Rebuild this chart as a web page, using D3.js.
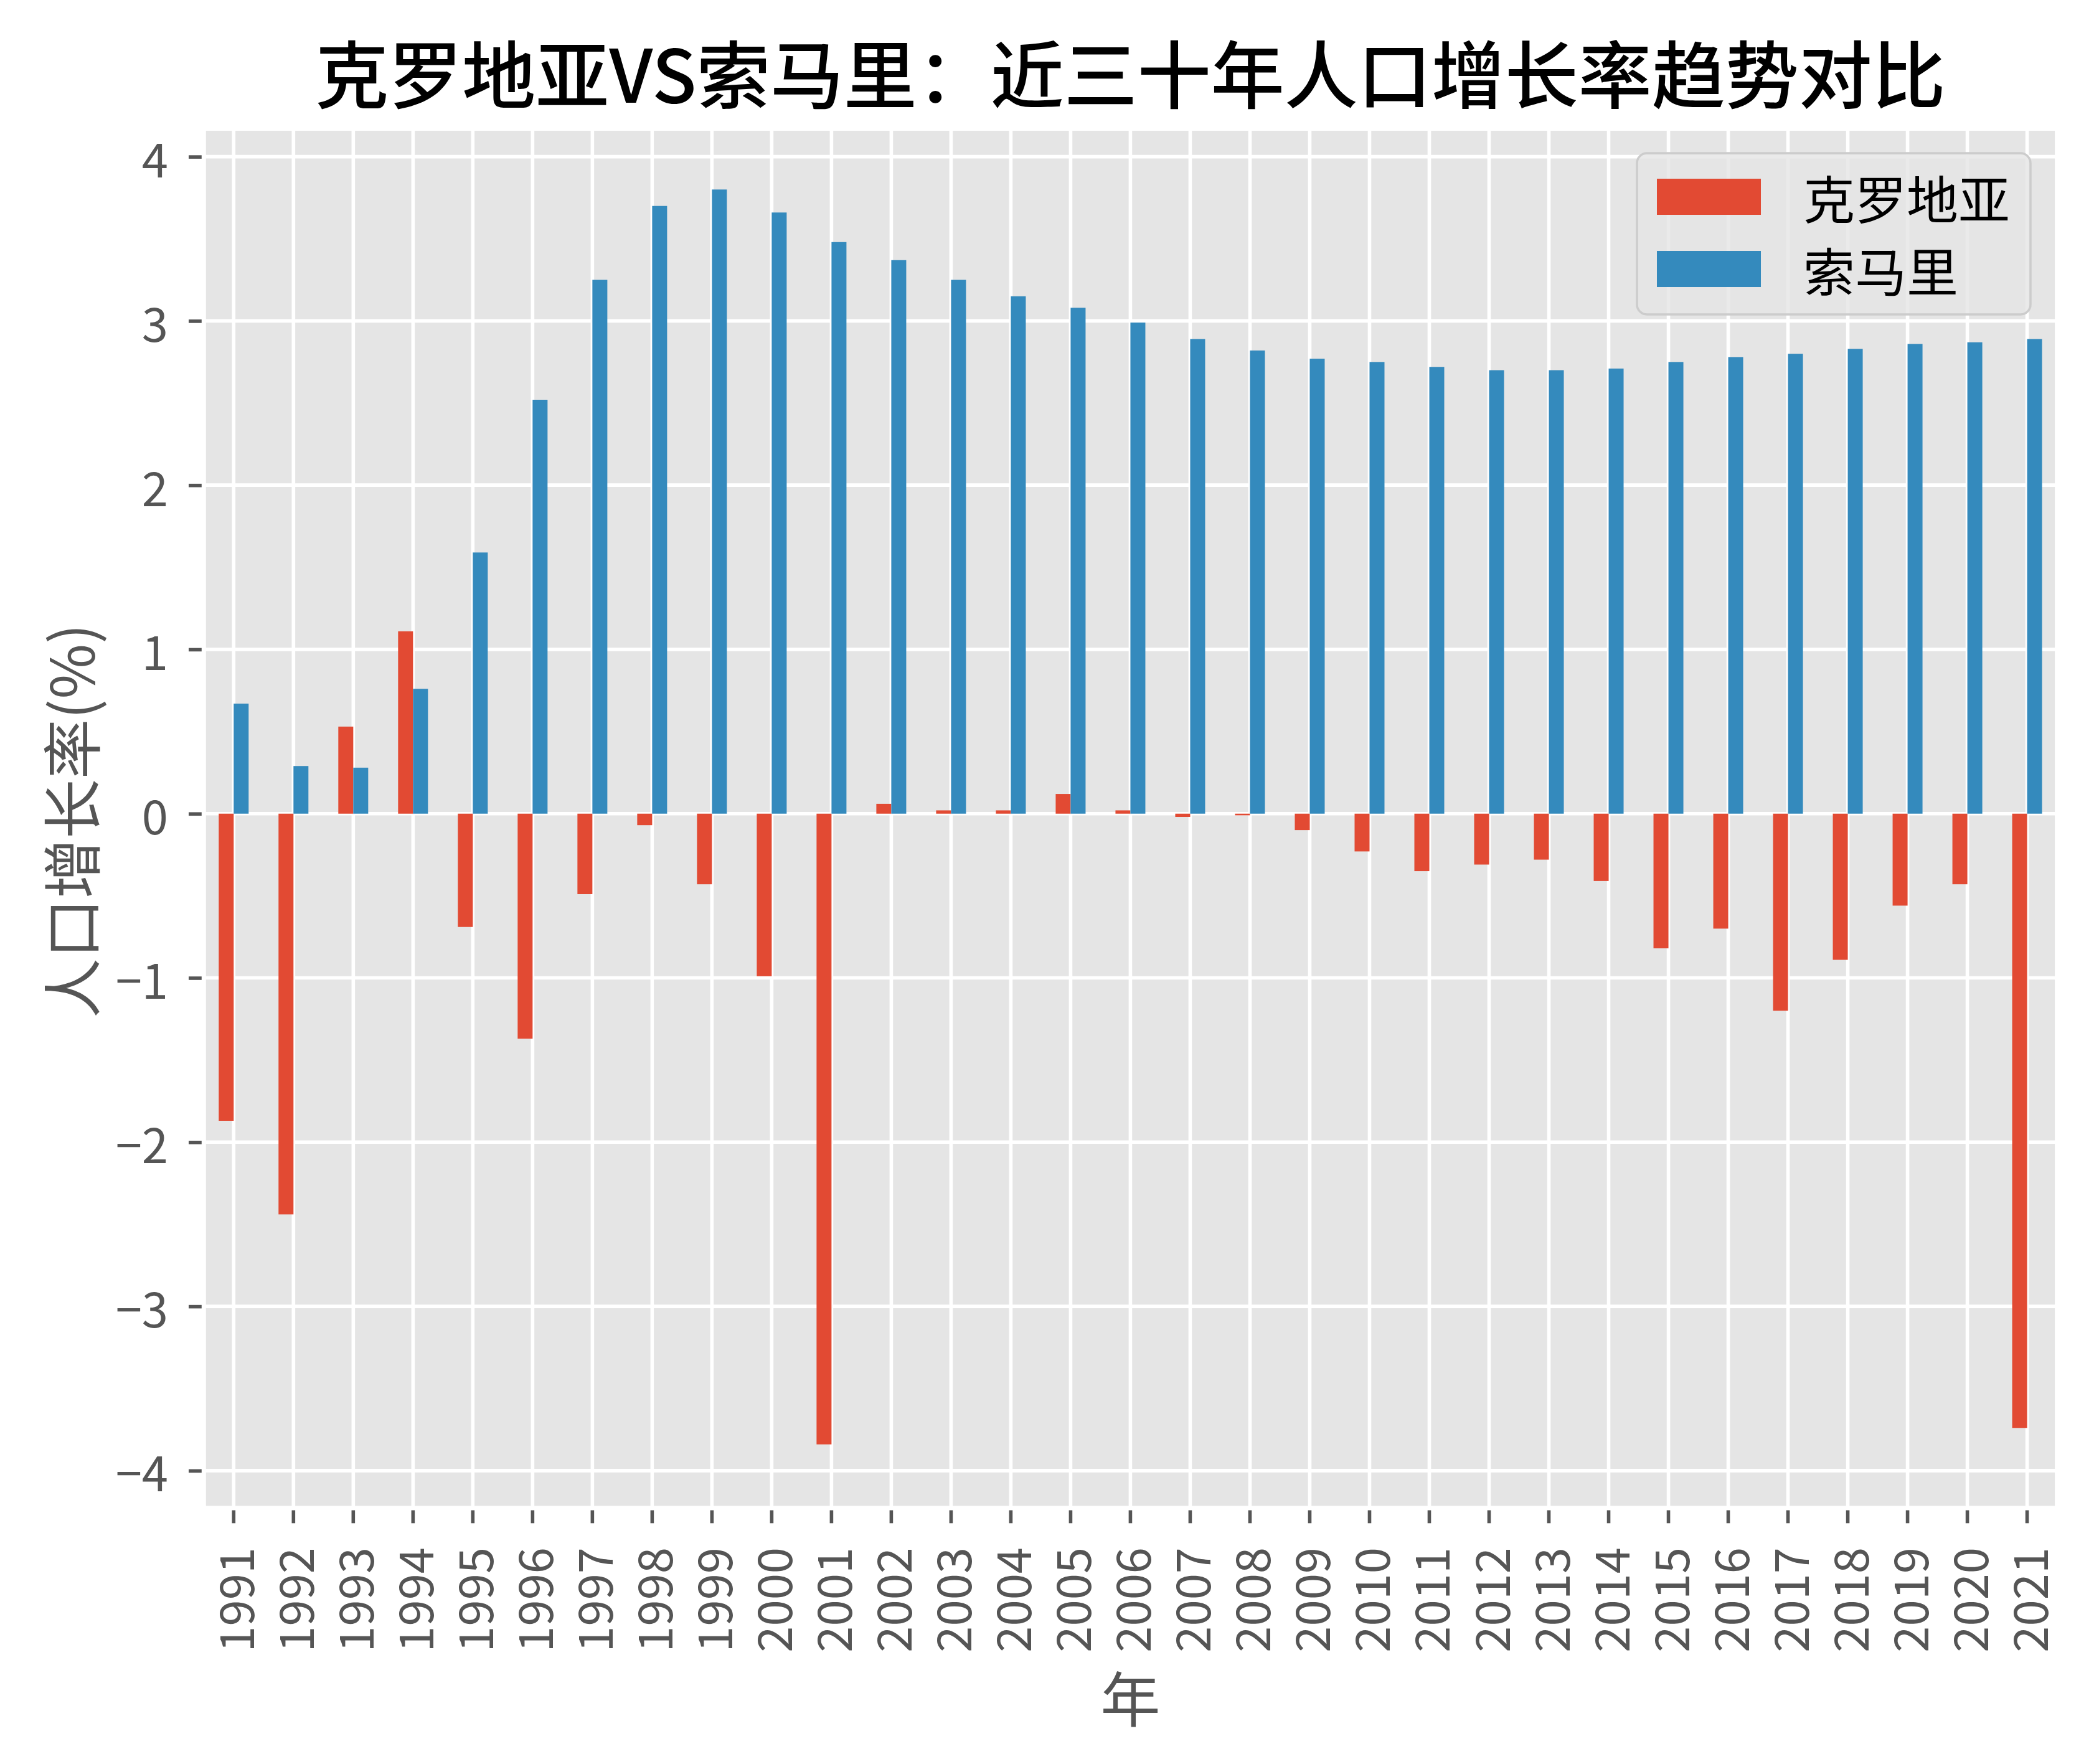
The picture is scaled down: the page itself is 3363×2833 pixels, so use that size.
<!DOCTYPE html>
<html>
<head>
<meta charset="utf-8">
<script src="https://cdn.jsdelivr.net/npm/d3@7"></script>
<style>
  html, body { margin: 0; padding: 0; background: #ffffff; }
  svg { display: block; }
  text { font-family: "Noto Sans CJK SC", "Noto Sans", sans-serif; }
</style>
</head>
<body>
<script>
// ---- data ----
const years = ["1991","1992","1993","1994","1995","1996","1997","1998","1999","2000",
  "2001","2002","2003","2004","2005","2006","2007","2008","2009","2010",
  "2011","2012","2013","2014","2015","2016","2017","2018","2019","2020","2021"];
const croatia = [-1.87, -2.44, 0.53, 1.11, -0.69, -1.37, -0.49, -0.07, -0.43, -0.99,
  -3.84, 0.06, 0.02, 0.02, 0.12, 0.02, -0.02, -0.01, -0.10, -0.23,
  -0.35, -0.31, -0.28, -0.41, -0.82, -0.70, -1.20, -0.89, -0.56, -0.43, -3.74];
const somalia = [0.67, 0.29, 0.28, 0.76, 1.59, 2.52, 3.25, 3.70, 3.80, 3.66,
  3.48, 3.37, 3.25, 3.15, 3.08, 2.99, 2.89, 2.82, 2.77, 2.75,
  2.72, 2.70, 2.70, 2.71, 2.75, 2.78, 2.80, 2.83, 2.86, 2.87, 2.89];
const seriesNames = ["克罗地亚", "索马里"];
const seriesColors = ["#E24A33", "#348ABD"];
const yTicks = [-4, -3, -2, -1, 0, 1, 2, 3, 4];
const titleText = "克罗地亚VS索马里：近三十年人口增长率趋势对比";
const xLabel = "年";
const yLabel = "人口增长率(%)";

// ---- layout ----
const W = 3363, H = 2833;
const L = 327.3, R = 3303.6, T = 206.5, B = 2422;

const svg = d3.select("body").append("svg").attr("width", W).attr("height", H);
svg.append("rect").attr("width", W).attr("height", H).attr("fill", "#ffffff");

const x = d3.scaleBand().domain(years).range([L, R]).paddingInner(0).paddingOuter(0);
const y = d3.scaleLinear().domain([-4.228, 4.171]).range([B, T]);
const barW = x.bandwidth() * 0.25;
const cx = d => x(d) + x.bandwidth() / 2;

// background
svg.append("rect").attr("x", L).attr("y", T).attr("width", R - L).attr("height", B - T)
  .attr("fill", "#E5E5E5");

// grid
const grid = svg.append("g");
grid.selectAll("line.h").data(yTicks).join("line")
  .attr("x1", L).attr("x2", R).attr("y1", d => y(d)).attr("y2", d => y(d))
  .attr("stroke", "#ffffff").attr("stroke-width", 5.6);
grid.selectAll("line.v").data(years).join("line")
  .attr("y1", T).attr("y2", B).attr("x1", d => cx(d)).attr("x2", d => cx(d))
  .attr("stroke", "#ffffff").attr("stroke-width", 5.6);

// bars
const bars = svg.append("g");
bars.selectAll("rect.c").data(years).join("rect")
  .attr("x", d => cx(d) - barW)
  .attr("width", barW)
  .attr("y", (d, i) => y(Math.max(0, croatia[i])))
  .attr("height", (d, i) => Math.abs(y(croatia[i]) - y(0)))
  .attr("fill", seriesColors[0]);
bars.selectAll("rect.s").data(years).join("rect")
  .attr("x", d => cx(d))
  .attr("width", barW)
  .attr("y", (d, i) => y(Math.max(0, somalia[i])))
  .attr("height", (d, i) => Math.abs(y(somalia[i]) - y(0)))
  .attr("fill", seriesColors[1]);

// axes
const tickLen = 24.3;
const yAxis = svg.append("g").attr("transform", `translate(${L},0)`)
  .call(d3.axisLeft(y).tickValues(yTicks).tickFormat(d3.format("d")).tickSize(tickLen).tickPadding(33));
const xAxis = svg.append("g").attr("transform", `translate(0,${B})`)
  .call(d3.axisBottom(x).tickSize(tickLen));
[yAxis, xAxis].forEach(g => {
  g.select(".domain").remove();
  g.selectAll(".tick line").attr("stroke", "#555555").attr("stroke-width", 5.6);
  g.selectAll(".tick text").attr("fill", "#555555").attr("font-size", 76)
    .attr("font-family", "\"Noto Sans CJK SC\", sans-serif");
});
yAxis.selectAll(".tick text").attr("dy", null).attr("dominant-baseline", "central");
xAxis.selectAll(".tick text")
  .attr("transform", "rotate(-90)")
  .attr("x", -63).attr("y", 0).attr("dy", null)
  .attr("text-anchor", "end")
  .attr("dominant-baseline", "central");

// white spines
svg.append("rect").attr("x", L).attr("y", T).attr("width", R - L).attr("height", B - T)
  .attr("fill", "none").attr("stroke", "#ffffff").attr("stroke-width", 7);

// title
svg.append("text").attr("x", (L + R) / 2).attr("y", 113.5)
  .attr("text-anchor", "middle").attr("dominant-baseline", "central")
  .attr("font-size", 118).attr("font-weight", 500).attr("fill", "#000000")
  .text(titleText);

// axis labels
svg.append("text").attr("x", (L + R) / 2).attr("y", 2723)
  .attr("text-anchor", "middle").attr("dominant-baseline", "central")
  .attr("font-size", 96).attr("fill", "#555555").text(xLabel);
svg.append("text").attr("transform", `translate(110,${(T + B) / 2 + 4}) rotate(-90)`)
  .attr("text-anchor", "middle").attr("dominant-baseline", "central")
  .attr("font-size", 96).attr("fill", "#555555").text(yLabel);

// legend
const lg = svg.append("g");
lg.append("rect").attr("x", 2629).attr("y", 246).attr("width", 632).attr("height", 259)
  .attr("rx", 16).attr("ry", 16)
  .attr("fill", "#E5E5E5").attr("fill-opacity", 0.8)
  .attr("stroke", "#CCCCCC").attr("stroke-width", 3.5);
const rowY = [316, 432];
seriesNames.forEach((name, i) => {
  lg.append("rect").attr("x", 2661).attr("y", rowY[i] - 29).attr("width", 167).attr("height", 58)
    .attr("fill", seriesColors[i]);
  lg.append("text").attr("x", 2896).attr("y", rowY[i])
    .attr("dominant-baseline", "central").attr("font-size", 83).attr("fill", "#000000")
    .text(name);
});
</script>
</body>
</html>
